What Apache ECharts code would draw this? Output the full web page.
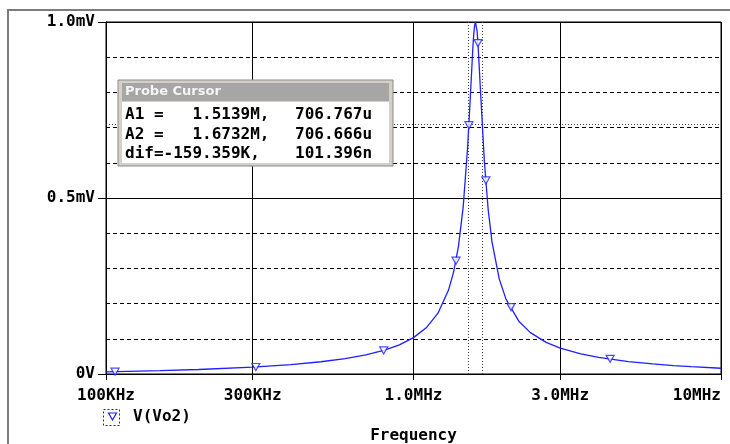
<!DOCTYPE html>
<html>
<head>
<meta charset="utf-8">
<style>
  html, body { margin: 0; padding: 0; background: #fff; }
  #chart { width: 730px; height: 444px; }
</style>
<script src="https://cdn.jsdelivr.net/npm/echarts@6/dist/echarts.min.js"></script>
</head>
<body>
<div id="chart"></div>
<script>
// frequency sweep (MHz) and V(Vo2) in mV
const freqMHz = [0.1, 0.15, 0.2, 0.3, 0.4, 0.5, 0.6, 0.7, 0.8, 0.9,
  1.0, 1.1, 1.2, 1.3, 1.35, 1.4, 1.45, 1.5, 1.53, 1.56,
  1.57, 1.58, 1.59, 1.6, 1.61, 1.62, 1.65, 1.7, 1.75, 1.8,
  1.9, 2.0, 2.2, 2.4, 2.7, 3.0, 3.5, 4, 5, 6, 7, 8, 10]
const voltMV = [0.0063, 0.0095, 0.0128, 0.0195, 0.0268, 0.0348, 0.0439, 0.0544, 0.0671, 0.0828,
  0.1033, 0.1312, 0.1721, 0.2384, 0.2895, 0.3625, 0.4725, 0.6449, 0.7854, 0.9285,
  0.965, 0.9896, 0.9998, 0.9944, 0.9743, 0.9423, 0.8108, 0.6039, 0.4654, 0.3755,
  0.2703, 0.2120, 0.1500, 0.1175, 0.0899, 0.0736, 0.0572, 0.0472, 0.0354, 0.0285,
  0.0240, 0.0207, 0.0163]

// trace markers (triangles)
const markerFreq = [0.107, 0.307, 0.80, 1.375, 1.514, 1.621, 1.72, 2.075, 4.36]
const markerVolt = [0.0066, 0.020, 0.067, 0.322, 0.707, 0.940, 0.55, 0.19, 0.043]

// axis ticks
const xTickValues = [0.1, 0.3, 1, 3, 10]
const xTickLabels = ['100KHz', '300KHz', '1.0MHz', '3.0MHz', '10MHz']
const yTickValues = [0, 0.5, 1.0]
const yTickLabels = ['0V', '0.5mV', '1.0mV']

// probe cursor
const cursorFreq = [1.5139, 1.6732]
const cursorVolt = [0.706767, 0.706666]
const cursorRows = [
  ['A1 =   1.5139M,', '706.767u'],
  ['A2 =   1.6732M,', '706.666u'],
  ['dif=-159.359K,', '101.396n'],
]

const mono = '"DejaVu Sans Mono", monospace'
const BLUE = '#1f1fff'

const chart = echarts.init(document.getElementById('chart'))

const xLabel = v => {
  const i = xTickValues.findIndex(t => Math.abs(t - v) < 1e-6)
  return i >= 0 ? xTickLabels[i] : ''
}
const yLabel = v => {
  const i = yTickValues.findIndex(t => Math.abs(t - v) < 1e-6)
  return i >= 0 ? yTickLabels[i] : ''
}

const lineData = freqMHz.map((f, i) => [f, voltMV[i]])
const markerData = markerFreq.map((f, i) => [f, markerVolt[i]])

const boxX = 118, boxY = 80
const cursorGraphics = []
cursorRows.forEach((row, i) => {
  const y = 114 + i * 19.5
  cursorGraphics.push({
    type: 'text', x: 125, y: y + 1, z: 110,
    style: { text: row[0], font: 'bold 16px ' + mono, fill: '#000', verticalAlign: 'middle' },
  })
  cursorGraphics.push({
    type: 'text', x: 295, y: y + 1, z: 110,
    style: { text: row[1], font: 'bold 16px ' + mono, fill: '#000', verticalAlign: 'middle' },
  })
})

chart.setOption({
  backgroundColor: '#fff',
  animation: false,
  grid: {
    left: 106, right: 9, top: 22, bottom: 70,
    outerBoundsMode: 'none',
    show: true, borderColor: '#000', borderWidth: 1,
  },
  legend: {
    left: 103, top: 404,
    itemWidth: 20, itemHeight: 10,
    icon: 'none',
    textStyle: { fontFamily: mono, fontWeight: 'bold', fontSize: 16, color: '#000' },
    data: ['V(Vo2)'],
  },
  xAxis: {
    type: 'log', logBase: 10, min: 0.1, max: 10,
    name: 'Frequency', nameLocation: 'middle', nameGap: 54,
    nameTextStyle: { fontFamily: mono, fontWeight: 'bold', fontSize: 16, color: '#000' },
    axisLine: { show: true, onZero: false, lineStyle: { color: '#000', width: 1 } },
    axisTick: { show: true, inside: false, length: 6, customValues: xTickValues, lineStyle: { color: '#000', width: 1 } },
    minorTick: { show: false },
    axisLabel: {
      formatter: xLabel, margin: 14, alignMaxLabel: 'right', customValues: xTickValues,
      fontFamily: mono, fontWeight: 'bold', fontSize: 16, color: '#000',
    },
    splitLine: { show: true, lineStyle: { color: '#000', width: 1, type: 'solid' } },
  },
  yAxis: [
    {
      type: 'value', min: 0, max: 1, interval: 0.1,
      axisLine: { show: true, onZero: false, lineStyle: { color: '#000' } },
      axisTick: { show: false },
      axisLabel: { show: false },
      splitLine: { show: true, lineStyle: { color: '#000', width: 1, type: [4, 3] } },
    },
    {
      type: 'value', min: 0, max: 1, interval: 0.5, position: 'left', offset: 0,
      axisLine: { show: true, onZero: false, lineStyle: { color: '#000' } },
      axisTick: { show: true, inside: false, length: 8, lineStyle: { color: '#000', width: 1 } },
      axisLabel: {
        formatter: yLabel, margin: 11,
        fontFamily: mono, fontWeight: 'bold', fontSize: 16, color: '#000',
      },
      splitLine: { show: true, lineStyle: { color: '#000', width: 1, type: 'solid' } },
    },
  ],
  series: [
    {
      name: 'V(Vo2)',
      type: 'line',
      data: lineData,
      showSymbol: false,
      smooth: false,
      lineStyle: { color: BLUE, width: 1.3 },
      itemStyle: { color: BLUE },
      z: 5,
      markLine: {
        silent: true,
        symbol: 'none',
        data: [
          { xAxis: xTickValues[1] },
          { xAxis: xTickValues[3] },
        ],
        lineStyle: { color: '#000', width: 1, type: 'solid' },
        label: { show: false },
      },
    },
    {
      name: 'cursors',
      type: 'line',
      data: [],
      markLine: {
        silent: true,
        symbol: 'none',
        label: { show: false },
        lineStyle: { color: '#444', width: 1, type: [1, 2] },
        data: [
          { xAxis: cursorFreq[0] },
          { xAxis: cursorFreq[1] },
          { yAxis: cursorVolt[0] },
        ],
      },
    },
    {
      name: 'markers',
      type: 'scatter',
      data: markerData,
      symbol: 'triangle',
      symbolRotate: 180,
      symbolSize: [8, 7],
      itemStyle: { color: '#fff', borderColor: BLUE, borderWidth: 1.2 },
      z: 6,
    },
  ],
  graphic: [
    // outer window frame
    {
      type: 'polyline',
      shape: { points: [[8, 444], [8, 10], [730, 10]] },
      style: { stroke: '#7c7c7c', lineWidth: 2, fill: null },
    },
    // legend marker box
    {
      type: 'rect',
      shape: { x: 103.5, y: 409.5, width: 16, height: 16 },
      style: { fill: '#fff', stroke: '#333', lineWidth: 1, lineDash: [2, 2] },
    },
    {
      type: 'polygon',
      shape: { points: [[108.5, 413], [116.5, 413], [112.5, 420]] },
      style: { fill: '#fff', stroke: BLUE, lineWidth: 1.2 },
    },
    // probe cursor window
    {
      type: 'rect',
      shape: { x: boxX, y: boxY, width: 275, height: 86 },
      style: { fill: '#d4d0c8', stroke: '#8a8a8a', lineWidth: 1 },
      z: 100,
    },
    {
      type: 'rect',
      shape: { x: boxX + 4, y: boxY + 3, width: 267, height: 18 },
      style: { fill: '#a6a6a6' },
      z: 101,
    },
    {
      type: 'text', x: boxX + 7, y: boxY + 12, z: 102,
      style: { text: 'Probe Cursor', font: 'bold 13px "DejaVu Sans", sans-serif', fill: '#f4f4f4', verticalAlign: 'middle' },
    },
    {
      type: 'rect',
      shape: { x: boxX + 4, y: boxY + 22, width: 267, height: 61 },
      style: { fill: '#fff' },
      z: 101,
    },
  ].concat(cursorGraphics),
})
</script>
</body>
</html>
